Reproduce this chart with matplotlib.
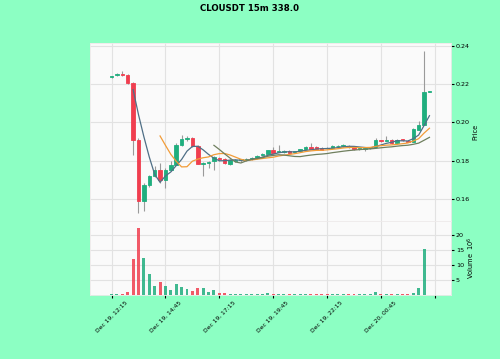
"""
CLOUSDT 15m candlestick chart with 5/10/20 moving averages and volume panel.
"""

import numpy as np
import pandas as pd
import matplotlib
matplotlib.use("Agg")
import matplotlib.pyplot as plt

# ---- Data ------------------------------------------------------------------
opens = [.2236, .2247, .2256, .2248, .2208, .1910, .1586, .1674, .1718, .1753,
         .1700, .1753, .1779, .1884, .1914, .1919, .1875, .1784, .1788, .1800,
         .1814, .1808, .1784, .1797, .1802, .1805, .1808, .1814, .1828, .1837,
         .1854, .1846, .1845, .1852, .1843, .1852, .1862, .1872, .1872, .1868,
         .1868, .1867, .1877, .1876, .1879, .1870, .1862, .1860, .1866, .1872,
         .1907, .1905, .1910, .1893, .1912, .1903, .1900, .1963, .1989, .2160]
highs = [.2246, .2262, .2270, .2252, .2212, .1920, .1680, .1725, .1770, .1788,
         .1760, .1796, .1890, .1936, .1928, .1922, .1880, .1794, .1800, .1824,
         .1818, .1812, .1810, .1808, .1810, .1812, .1818, .1830, .1840, .1858,
         .1870, .1884, .1854, .1856, .1852, .1863, .1875, .1893, .1876, .1872,
         .1870, .1883, .1883, .1885, .1883, .1874, .1868, .1869, .1872, .1919,
         .1910, .1930, .1914, .1914, .1914, .1906, .1970, .2006, .2374, .2166]
lows = [.2232, .2243, .2244, .2200, .1831, .1525, .1534, .1660, .1712, .1683,
        .1657, .1745, .1775, .1878, .1905, .1870, .1780, .1721, .1760, .1753,
        .1800, .1780, .1778, .1792, .1795, .1800, .1804, .1810, .1824, .1833,
        .1836, .1843, .1841, .1836, .1839, .1848, .1858, .1859, .1857, .1854,
        .1860, .1863, .1873, .1872, .1868, .1858, .1858, .1850, .1862, .1868,
        .1899, .1902, .1889, .1889, .1903, .1897, .1896, .1960, .1985, .2158]
closes = [.2242, .2254, .2248, .2208, .1910, .1586, .1674, .1718, .1753, .1700,
          .1753, .1779, .1884, .1914, .1919, .1875, .1784, .1790, .1795, .1819,
          .1808, .1786, .1805, .1803, .1806, .1808, .1815, .1826, .1835, .1854,
          .1840, .1849, .1850, .1840, .1848, .1860, .1871, .1863, .1861, .1858,
          .1864, .1879, .1879, .1881, .1872, .1862, .1864, .1865, .1868, .1910,
          .1903, .1907, .1893, .1910, .1906, .1900, .1966, .1989, .2159, .2164]
volumes = [0.3, 0.3, 0.4, 0.9, 11.9, 22.2, 12.2, 7.1, 3.0, 4.2,
           3.0, 1.7, 3.6, 2.7, 2.0, 1.4, 2.4, 2.4, 1.1, 1.7,
           0.6, 0.8, 0.5, 0.4, 0.5, 0.3, 0.4, 0.3, 0.4, 0.6,
           0.5, 0.4, 0.3, 0.5, 0.3, 0.3, 0.4, 0.4, 0.5, 0.5,
           0.3, 0.4, 0.3, 0.3, 0.4, 0.3, 0.3, 0.3, 0.4, 0.9,
           0.3, 0.3, 0.4, 0.3, 0.3, 0.3, 0.8, 2.2, 15.3, 0.1]  # x 1e6

MAVS = [5, 10, 20]
TITLE = "CLOUSDT 15m 338.0"

df = pd.DataFrame({"Open": opens, "High": highs, "Low": lows,
                   "Close": closes, "Volume": np.array(volumes) * 1e6},
                  index=pd.date_range("2023-12-19 12:15", periods=len(opens),
                                      freq="15min"))

# ---- Style -----------------------------------------------------------------
BG      = "#8cffc3"
PANEL   = "#fafafa"
UP      = "#1fae7e"
DOWN    = "#f03e4f"
WICK    = "#9a9a9a"
MAV_COL = ["#4f6f86", "#f29c38", "#6f7f5e"]

plt.rcParams["font.family"] = "DejaVu Sans"

fig = plt.figure(figsize=(5.0, 3.59), dpi=100, facecolor=BG)
ax  = fig.add_axes([0.18, 0.384, 0.722, 0.496])
axv = fig.add_axes([0.18, 0.178, 0.722, 0.206], sharex=ax)

x = np.arange(len(df))
up = df["Close"] >= df["Open"]
cols = np.where(up, UP, DOWN)

# ---- Candles ---------------------------------------------------------------
ax.vlines(x, df["Low"], df["High"], color=WICK, linewidth=0.8, zorder=2)
ax.bar(x, df["Close"] - df["Open"], bottom=df["Open"], width=0.65,
       color=cols, edgecolor=cols, linewidth=0.6, zorder=3)

for n, c in zip(MAVS, MAV_COL):
    ax.plot(x, df["Close"].rolling(n).mean(), color=c, linewidth=0.9, zorder=4)

rng = df["High"].max() - df["Low"].min()
ax.set_ylim(df["Low"].min() - 0.05 * rng, df["High"].max() + 0.05 * rng)
ax.set_xlim(-4.0, 63.0)
ax.set_yticks([0.16, 0.18, 0.20, 0.22, 0.24])

# ---- Volume ----------------------------------------------------------------
axv.bar(x, df["Volume"] / 1e6, width=0.55, color=cols, alpha=0.85, zorder=3)
axv.set_ylim(0, 1.1 * df["Volume"].max() / 1e6)
axv.set_yticks([5, 10, 15, 20])

# x ticks every 10 bars (2.5 h), label blank past the data
ticks = list(range(0, 61, 10))
labels = [df.index[t].strftime("%b %d, %H:%M") if t < len(df) else ""
          for t in ticks]
axv.set_xticks(ticks)
axv.set_xticklabels(labels, rotation=45, ha="center", fontsize=4.3)
plt.setp(ax.get_xticklabels(), visible=False)
ax.tick_params(axis="x", length=0)

for a in (ax, axv):
    a.set_facecolor(PANEL)
    a.grid(True, color="#e2e2e2", linewidth=0.8, zorder=0)
    a.set_axisbelow(True)
    a.yaxis.tick_right()
    a.yaxis.set_label_position("right")
    a.tick_params(axis="y", labelsize=4.6, length=2, pad=1.5)
    a.tick_params(axis="x", length=2, pad=1.5)
    for s in a.spines.values():
        s.set_color("#eeeaea")
        s.set_linewidth(0.6)

ax.set_ylabel("Price", fontsize=4.8, labelpad=1.5)
axv.set_ylabel("Volume  $10^{6}$", fontsize=4.8, labelpad=1.5)

fig.suptitle(TITLE, fontsize=6.2, fontweight="bold", y=0.99)

fig.savefig("out.png", dpi=100, facecolor=BG)
